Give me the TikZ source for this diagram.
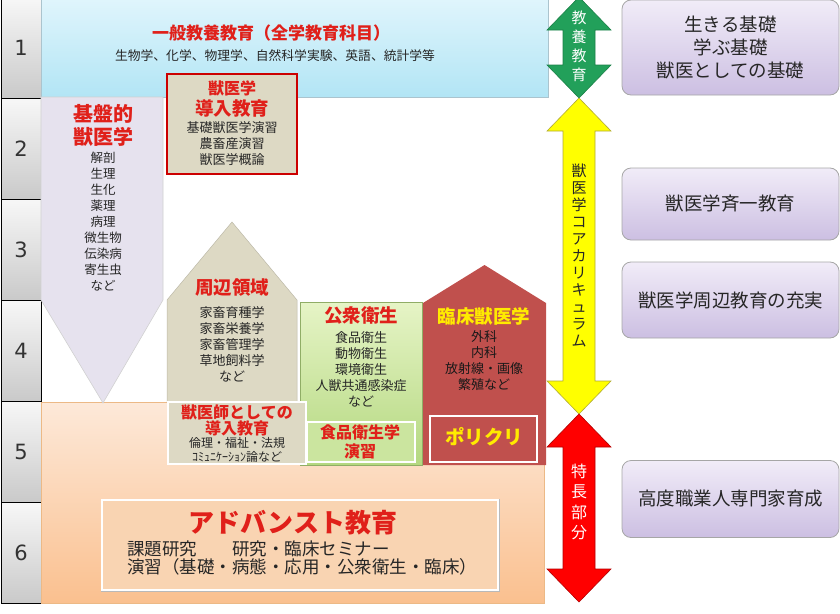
\documentclass[tikz,border=0pt]{standalone}
\usepackage{fontspec}
\setmainfont{Noto Sans CJK JP}
\newfontfamily\numfont{DejaVu Sans}
\usetikzlibrary{positioning}

\definecolor{titlered}{HTML}{E0201A}
\definecolor{skytop}{HTML}{E0F5FC}
\definecolor{skybot}{HTML}{B2E5F5}
\definecolor{lilac}{HTML}{E6E2EE}
\definecolor{beige}{HTML}{DDD9C4}
\definecolor{leaftop}{HTML}{E6F4C6}
\definecolor{leafbot}{HTML}{B4D880}
\definecolor{brick}{HTML}{C0504D}
\definecolor{peachtop}{HTML}{FDE9D9}
\definecolor{peachbot}{HTML}{FAC08F}
\definecolor{peachbox}{HTML}{F9D4B2}
\definecolor{mauvetop}{HTML}{F1ECF8}
\definecolor{mauvebot}{HTML}{CCBFE2}
\definecolor{arrgreen}{HTML}{22A05A}
\definecolor{lemon}{HTML}{FFFF00}
\definecolor{clinyellow}{HTML}{FFEB00}

\tikzset{
  yearbox/.style={rectangle, draw=black, line width=0.8pt, top color=gray!6, bottom color=gray!42,
    minimum width=40pt, minimum height=101pt, inner sep=0pt, text=black!80,
    font=\numfont\fontsize{21}{21}\selectfont},
  headred/.style 2 args={text=titlered, inner sep=0pt, align=center, font=\bfseries\fontsize{#1}{#2}\selectfont},
  items/.style={text=black!85, inner sep=0pt, align=center, font=\fontsize{13}{16}\selectfont},
  sidebox/.style={rectangle, rounded corners=9pt, draw=gray!70, line width=0.8pt, top color=mauvetop,
    bottom color=mauvebot, minimum width=217pt, inner sep=0pt, align=center, text=black!85,
    font=\fontsize{18.5}{23}\selectfont},
  whitebox/.style={rectangle, draw=white, line width=2pt, inner sep=0pt},
  vtext/.style 2 args={inner sep=0pt, align=center, text=#1, font=\fontsize{15}{#2}\selectfont},
}

\begin{document}
\begin{tikzpicture}[x=1pt,y=-1pt]
  \useasboundingbox (0,0) rectangle (840,613);

  \def\aim#1#2#3#4{
    \node[sidebox, minimum height=#3] (#1) at (730.5,#2) {#4};
  }
  \def\dblarrow#1#2#3#4{
    \filldraw[fill=#1, draw=#2, line width=0.6pt] (579,#3) -- (611,#3+33) -- (595,#3+33) -- (595,#4-33)
      -- (611,#4-33) -- (579,#4) -- (547,#4-33) -- (563,#4-33) -- (563,#3+33) -- (547,#3+33) -- cycle;
  }

  %years
  \foreach \n in {1,...,6}
    \node[yearbox] (year\n) at (21,{-53.5+101*\n}) {\n};

  %general education
  \node[rectangle, draw=cyan!30!gray!60, line width=0.6pt, top color=skytop, bottom color=skybot,
    minimum width=507pt, minimum height=99pt, inner sep=0pt] (general) at (294.5,47.5) {};
  \node[headred={17}{17}] (generaltitle) at (271,33) {一般教養教育（全学教育科目）};
  \node[items, font=\fontsize{12.8}{15}\selectfont] (generalsub) at (275,56) {生物学、化学、物理学、自然科学実験、英語、統計学等};

  %advanced area
  \draw[top color=peachtop, bottom color=peachbot, draw=orange!45!brown!55, line width=0.6pt] (41,402) rectangle (544,603);

  %basic veterinary science
  \filldraw[fill=lilac, draw=black!18, line width=0.6pt] (41,97) -- (163,97) -- (163,300) -- (103,403) -- (41,300) -- cycle;
  \node[headred={20}{23}] (basictitle) at (103,125) {基盤的\\獣医学};
  \node[items, font=\fontsize{12.5}{16}\selectfont] (basiclist) at (103,222) {解剖\\生理\\生化\\薬理\\病理\\微生物\\伝染病\\寄生虫\\など};

  \node[rectangle, draw=red!80!black, line width=2.5pt, fill=beige, minimum width=130pt, minimum height=100pt] (vetbasic) at (232,124) {};
  \node[headred={16}{16}] (vetbasictitle) at (232,88) {獣医学};
  \node[headred={18.5}{18.5}] (vetbasictitle2) at (232,108) {導入教育};
  \node[items] (vetbasiclist) at (232,144) {基礎獣医学演習\\農畜産演習\\獣医学概論};

  %related fields
  \filldraw[fill=beige, draw=beige!85!black, line width=0.5pt] (167,403) -- (167,300) -- (232,222) -- (297,300) -- (297,403);
  \node[headred={18.5}{18.5}] (relatedtitle) at (232,287) {周辺領域};
  \node[items] (relatedlist) at (232,344) {家畜育種学\\家畜栄養学\\家畜管理学\\草地飼料学\\など};

  %public health
  \draw[top color=leaftop, bottom color=leafbot, draw=leafbot!80!black, line width=0.4pt] (300,302) rectangle (422,465);
  \node[headred={18.5}{18.5}] (publictitle) at (361,316) {公衆衛生};
  \node[items] (publiclist) at (361,369) {食品衛生\\動物衛生\\環境衛生\\人獣共通感染症\\など};

  %clinical
  \fill[brick] (423,465) -- (423,303) -- (484.5,265) -- (546,303) -- (546,465) -- cycle;
  \node[headred={18.5}{18.5}, text=clinyellow] (clinictitle) at (484,316) {臨床獣医学};
  \node[items, text=black!90] (cliniclist) at (484,361) {外科\\内科\\放射線・画像\\繁殖など};

  %5th year boxes
  \node[whitebox, fill=beige, minimum width=138pt, minimum height=62pt] (vetintro) at (236.5,433) {};
  \node[headred={16}{16}] (vetintrotitle) at (237,420) {獣医師としての\\導入教育};
  \node[items, font=\fontsize{12}{14}\selectfont] (vetintrolist) at (237,450) {倫理・福祉・法規\\ｺﾐｭﾆｹｰｼｮﾝ論など};

  \node[whitebox, fill=leafbot!55!leaftop, minimum width=108pt, minimum height=40pt] (foodlab) at (361,442) {};
  \node[headred={16}{19}] (foodlabtitle) at (360,441.5) {食品衛生学\\演習};

  \node[whitebox, fill=brick, minimum width=107pt, minimum height=46pt] (polyclinic) at (483.5,439) {};
  \node[headred={19.5}{19.5}, text=clinyellow] (polyclinictitle) at (484,437) {ポリクリ};

  %advanced education
  \draw[gray!55, line width=1pt] (101,499) rectangle (499,591);
  \node[whitebox, fill=peachbox, minimum width=396pt, minimum height=90pt] (advanced) at (300,545) {};
  \node[headred={26}{26}] (advancedtitle) at (293,523) {アドバンスト教育};
  \node[items, anchor=west, align=left, font=\fontsize{17.5}{18}\selectfont] (advancedlist) at (127,558)
    {課題研究　　研究・臨床セミナー\\演習（基礎・病態・応用・公衆衛生・臨床）};

  %arrows
  \dblarrow{arrgreen}{arrgreen!80!black}{-3}{98}
  \dblarrow{lemon}{olive!70}{98}{414}
  \dblarrow{red}{red!70!black}{414}{602}
  \node[vtext={white}{19}] (liberal) at (579,46) {教\\養\\教\\育};
  \node[vtext={black!85}{17}] (core) at (579,255) {獣\\医\\学\\コ\\ア\\カ\\リ\\キ\\ュ\\ラ\\ム};
  \node[vtext={white}{20.5}, font=\fontsize{16}{20.5}\selectfont] (feature) at (579,502) {特\\長\\部\\分};

  %aims
  \aim{aimbase}{47.5}{95}{生きる基礎\\学ぶ基礎\\獣医としての基礎}
  \aim{aimcore}{204}{72}{獣医学斉一教育}
  \aim{aimrelated}{300}{76}{獣医学周辺教育の充実}
  \aim{aimexpert}{499}{77}{高度職業人専門家育成}

\end{tikzpicture}
\end{document}
